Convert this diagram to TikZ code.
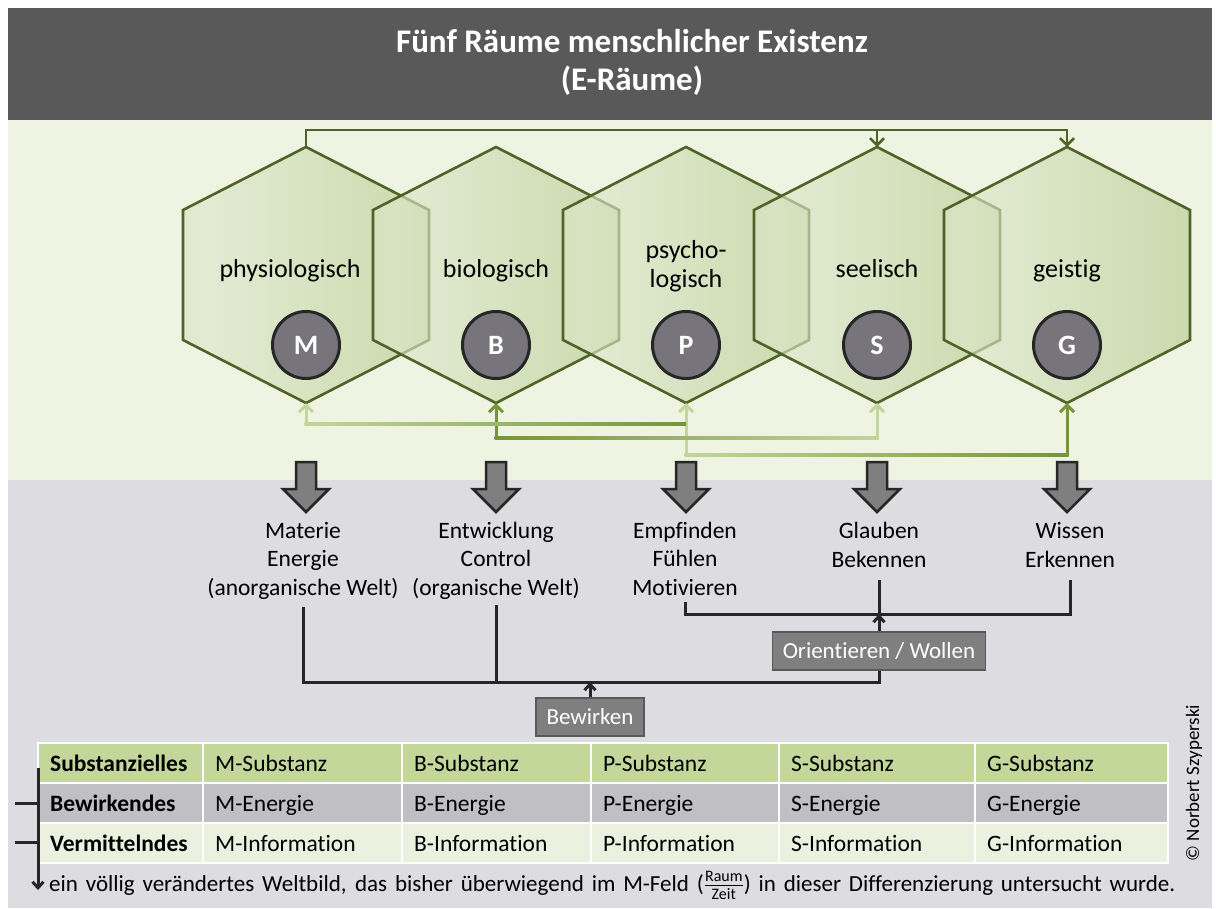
\documentclass[tikz,border=0pt]{standalone}
\usepackage{fontspec}
\setmainfont{Carlito}[Ligatures=NoCommon]
\usetikzlibrary{arrows.meta,calc,positioning}

\definecolor{titlegray}{HTML}{595959}
\definecolor{bggreen}{HTML}{EFF3E2}
\definecolor{bggray}{HTML}{DDDCE0}
\definecolor{hexline}{HTML}{4F6228}
\definecolor{hexedge}{HTML}{C3D4A3}
\definecolor{hexlight}{HTML}{DDE7CA}
\definecolor{hexdark}{HTML}{A3BE74}
\definecolor{linklight}{HTML}{C3D69B}
\definecolor{linkdark}{HTML}{77933C}
\definecolor{circgray}{HTML}{77757B}
\definecolor{arrowgray}{HTML}{7F7F7F}
\definecolor{boxgray}{HTML}{7F7F7F}
\definecolor{boxline}{HTML}{595959}
\definecolor{darkline}{HTML}{262626}
\definecolor{rowgreen}{HTML}{C4D79B}
\definecolor{rowgray}{HTML}{C0BFC3}
\definecolor{rowlight}{HTML}{EBF1DE}

\pgfdeclarehorizontalshading{hexshade}{100bp}{color(0bp)=(hexedge); color(30bp)=(hexlight); color(100bp)=(hexdark)}

\tikzset{
  every node/.style={inner sep=0pt},
  hexa/.style={draw=hexline, line width=2.6pt, shading=hexshade, fill opacity=0.65},
  hexlabel/.style={font=\fontsize{26}{29}\selectfont, align=center},
  letter/.style={circle, draw=darkline, line width=3pt, fill=circgray, minimum size=67pt,
    text=white, font=\fontsize{28}{30}\selectfont\bfseries},
  toplink/.style={draw=hexline, line width=2.6pt, -{Straight Barb[length=7pt,width=14pt]}},
  uplink/.style={line width=3pt, -{Straight Barb[length=7pt,width=14pt]}},
  bigarrow/.style={fill=arrowgray, draw=darkline, line width=2.5pt, line join=miter},
  result/.style={font=\fontsize{23.5}{28.5}\selectfont, align=center},
  conn/.style={draw=darkline, line width=3pt},
  graybox/.style={fill=boxgray, draw=boxline, line width=1.2pt, text=white,
    font=\fontsize{23}{26}\selectfont, minimum height=38pt, inner xsep=10.5pt},
  cell/.style={anchor=base west, font=\fontsize{23.5}{26}\selectfont},
}

\begin{document}
\begin{tikzpicture}[x=1pt,y=-1pt]
  \useasboundingbox (0,0) rectangle (1216,908);
  \fill[white] (0,0) rectangle (1216,908);
  \fill[titlegray] (8,8) rectangle (1212,120);
  \fill[bggreen] (8,120) rectangle (1212,480);
  \fill[bggray] (8,480) rectangle (1212,908);

  \node[font=\fontsize{33}{38}\selectfont\bfseries, text=white, align=center, anchor=base] (title) at (632,90)
    {Fünf Räume menschlicher Existenz\\(E-Räume)};

  % the five spaces
  \foreach \n/\x in {M/306,B/496,P/686,S/877,G/1067}{
    \shadedraw[hexa] (\x,147) -- (\x+123,210) -- (\x+123,340) -- (\x,403)
      -- (\x-123,340) -- (\x-123,210) -- cycle;
    \coordinate (top\n) at (\x,147);
    \coordinate (bot\n) at (\x,403);
    \node[letter] (\n) at (\x,345) {\n};
  }
  \node[hexlabel, anchor=base] (lM) at (290,277) {physiologisch};
  \node[hexlabel, anchor=base] (lB) at (496,277) {biologisch};
  \node[hexlabel, anchor=base] (lP) at (686,287) {psycho-\\logisch};
  \node[hexlabel, anchor=base] (lS) at (877,277) {seelisch};
  \node[hexlabel, anchor=base] (lG) at (1067,277) {geistig};

  % links above
  \coordinate (railTop) at (0,130);
  \draw[toplink] (topM) -- (topM |- railTop) -| (topG);
  \draw[toplink] (topS |- railTop) -- (topS);

  % links below
  \coordinate (r1) at (0,424);
  \coordinate (r2) at (0,438);
  \coordinate (r3) at (0,455);
  \draw[uplink, linklight] (botP |- r3) -- (botP);
  \draw[uplink, linklight] (botM |- r1) -- (botM);
  \draw[uplink, linkdark] (botB |- r2) -- (botB);
  \draw[uplink, linklight] (botS |- r2) -- (botS);
  \draw[uplink, linkdark] (botG |- r3) -- (botG);
  \shade[left color=linklight, right color=linkdark]
    ($(botM |- r1)+(-1.5,-1.5)$) rectangle ($(botP |- r1)+(0,1.5)$);
  \shade[left color=linkdark, right color=linklight]
    ($(botB |- r2)+(-1.5,-1.5)$) rectangle ($(botS |- r2)+(1.5,1.5)$);
  \shade[left color=linklight, right color=linkdark]
    ($(botP |- r3)+(-1.5,-1.5)$) rectangle ($(botG |- r3)+(1.5,1.5)$);

  % block arrows
  \foreach \x in {306,496,686,877,1067}
    \filldraw[bigarrow] (\x-10,462) -- (\x-10,489) -- (\x-23,489) -- (\x,512)
      -- (\x+23,489) -- (\x+10,489) -- (\x+10,462) -- cycle;

  \node[result, anchor=base] (tM) at (303,595) {Materie\\Energie\\(anorganische Welt)};
  \node[result, anchor=base] (tB) at (496,595) {Entwicklung\\Control\\(organische Welt)};
  \node[result, anchor=base] (tP) at (685,595) {Empfinden\\Fühlen\\Motivieren};
  \node[result, anchor=base] (tS) at (879,567) {Glauben\\Bekennen};
  \node[result, anchor=base] (tG) at (1070,567) {Wissen\\Erkennen};

  \node[graybox] (ori) at (879,651) {Orientieren / Wollen};
  \node[graybox] (bew) at (590,717) {Bewirken};

  \coordinate (busLow) at (0,682);
  \coordinate (busHigh) at (0,614);
  \draw[conn, shorten <=8pt] (tM.south) |- (ori.south |- busLow) -- (ori.south);
  \draw[conn, shorten <=6pt] (tB.south) -- (tB.south |- busLow);
  \draw[conn, -{Straight Barb[length=6pt,width=11pt]}] (bew.north) -- (bew.north |- busLow);
  \draw[conn, shorten <=7pt, shorten >=13pt] (tP.south) |- (tG.south |- busHigh) -- (tG.south);
  \draw[conn, shorten <=13pt] (tS.south) -- (tS.south |- busHigh);
  \draw[conn, -{Straight Barb[length=6pt,width=11pt]}] (ori.north) -- (ori.north |- busHigh);

  % table
  \foreach \c/\yt/\yb in {rowgreen/743/783, rowgray/783/823, rowlight/823/863}
    \fill[\c] (38,\yt) rectangle (1168,\yb);
  \draw[white, line width=2pt] (38,743) rectangle (1168,863);
  \foreach \y in {783,823}
    \draw[white, line width=2pt] (38,\y) -- (1168,\y);
  \foreach \x in {203,402,591,779,975}
    \draw[white, line width=2pt] (\x,743) -- (\x,863);

  \node[cell, font=\fontsize{23.5}{26}\selectfont\bfseries] (h1) at (50,771) {Substanzielles};
  \node[cell, font=\fontsize{23.5}{26}\selectfont\bfseries] (h2) at (50,811) {Bewirkendes};
  \node[cell, font=\fontsize{23.5}{26}\selectfont\bfseries] (h3) at (50,851) {Vermittelndes};
  \foreach \r/\y/\w in {1/771/Substanz, 2/811/Energie, 3/851/Information}
    \foreach \col/\x in {M/215,B/414,P/603,S/791,G/987}
      \node[cell] (\col-\r) at (\x,\y) {\col-\w};

  \coordinate (brTop) at (38,768);
  \coordinate (brEnd) at (38,890);
  \coordinate (tick1) at (15,803);
  \coordinate (tick2) at (15,842);
  \draw[conn, -{Straight Barb[length=6pt,width=11pt]}] (brTop) -- (brEnd);
  \draw[conn] (tick1) -- (tick1 -| brTop);
  \draw[conn] (tick2) -- (tick2 -| brTop);

  \node[anchor=base west, font=\fontsize{23}{26}\selectfont] (note) at (49,891)
    {\makebox[1126pt][s]{ein völlig verändertes Weltbild, das bisher überwiegend im M-Feld
     ($\frac{\hbox{\fontsize{16}{16}\selectfont Raum}}{\hbox{\fontsize{16}{16}\selectfont Zeit}}$)
     in dieser Differenzierung untersucht wurde.}};

  \node[rotate=90, font=\fontsize{19}{22}\selectfont] (copy) at (1194,783) {© Norbert Szyperski};
\end{tikzpicture}
\end{document}
